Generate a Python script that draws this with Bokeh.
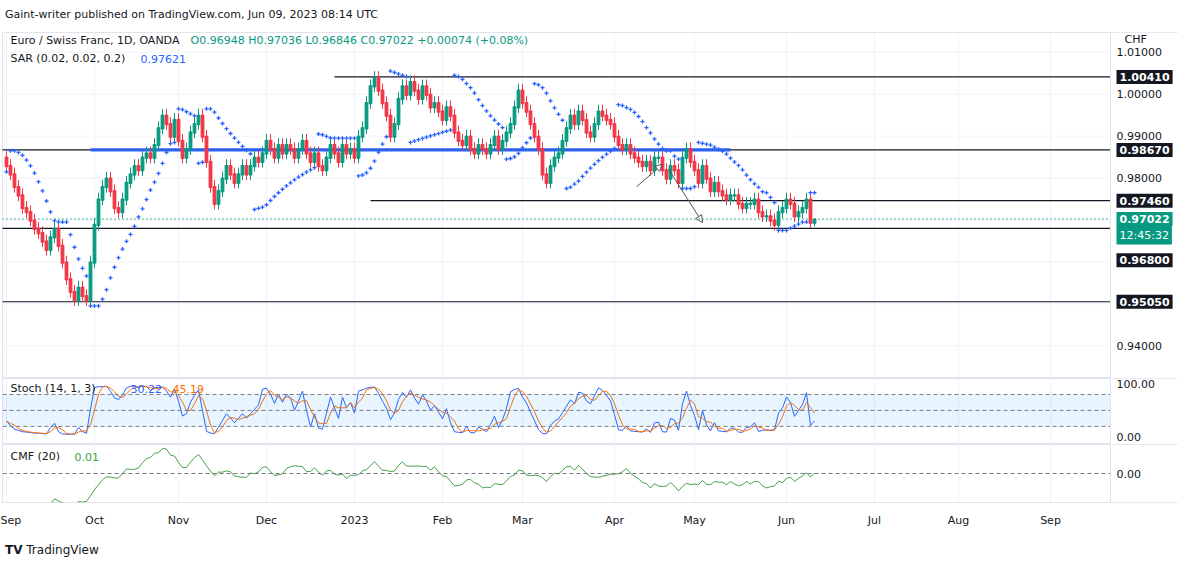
import numpy as np
from bokeh.plotting import figure
from bokeh.layouts import column
from bokeh.models import (Div, Label, Span, FixedTicker, Arrow, NormalHead,
                          BoxAnnotation, ColumnDataSource)
from bokeh.embed import file_html
from bokeh.resources import INLINE

closes = [0.983,0.981,0.978,0.976,0.973,0.972,0.970,0.968,0.967,0.965,
          0.963,0.966,0.968,0.964,0.960,0.956,0.953,0.951,0.954,0.952,
          0.951,0.960,0.969,0.975,0.978,0.980,0.977,0.973,0.972,0.975,
          0.979,0.981,0.983,0.982,0.985,0.986,0.985,0.988,0.992,0.995,
          0.993,0.990,0.994,0.989,0.985,0.987,0.991,0.993,0.995,0.990,
          0.984,0.978,0.974,0.977,0.980,0.983,0.981,0.979,0.981,0.983,
          0.981,0.983,0.985,0.984,0.986,0.989,0.987,0.985,0.988,0.986,
          0.988,0.987,0.985,0.987,0.989,0.986,0.984,0.986,0.983,0.982,
          0.985,0.988,0.986,0.984,0.988,0.986,0.987,0.985,0.990,0.992,
          0.998,1.002,1.004,1.001,0.998,0.995,0.990,0.993,0.999,1.002,
          1.000,1.003,1.001,0.999,1.002,1.000,0.997,0.998,0.996,0.994,
          0.997,0.995,0.991,0.989,0.988,0.990,0.987,0.986,0.988,0.987,
          0.986,0.988,0.990,0.987,0.989,0.991,0.993,0.997,1.001,0.998,
          0.996,0.993,0.990,0.987,0.981,0.979,0.983,0.985,0.986,0.989,
          0.992,0.995,0.993,0.996,0.994,0.991,0.990,0.993,0.996,0.995,
          0.994,0.993,0.990,0.988,0.987,0.988,0.986,0.985,0.984,0.983,
          0.984,0.982,0.985,0.985,0.982,0.980,0.983,0.982,0.979,0.985,
          0.987,0.984,0.982,0.979,0.983,0.980,0.977,0.979,0.977,0.976,
          0.975,0.976,0.976,0.974,0.973,0.974,0.974,0.975,0.972,0.971,
          0.971,0.970,0.969,0.972,0.973,0.975,0.974,0.971,0.972,0.973,
          0.975,0.96948,0.97022]
first_open = 0.985
last_high, last_low = 0.97036, 0.96846
month_idx = [0, 22, 43, 65, 87, 109, 129, 152, 172, 195, 217, 238, 261]
month_lbl = ["Sep", "Oct", "Nov", "Dec", "2023", "Feb", "Mar", "Apr", "May", "Jun", "Jul", "Aug", "Sep"]
price_ticks = [0.94, 0.95, 0.96, 0.97, 0.98, 0.99, 1.0, 1.01]
shown_price_labels = [0.94, 0.96, 0.98, 0.99, 1.0, 1.01]
levels = [1.0041, 0.9867, 0.9746, 0.9680, 0.9505]
level_start = [82, -5, 91, -5, -5]
level_label_shift = [0, 0, 0, -32, 0]

UP, DN = "#089981", "#f23645"
n = len(closes)
c = np.array(closes)
o = np.concatenate([[first_open], c[:-1]])
h = np.maximum(o, c) + 0.0015
l = np.minimum(o, c) - 0.0015
h[-1], l[-1] = last_high, last_low
x = np.arange(n)

sar = np.zeros(n); up = True; af = 0.02; ep = h[0]; sar[0] = l[0]
for i in range(1, n):
    s = sar[i-1] + af * (ep - sar[i-1])
    if up:
        s = min(s, l[i-1], l[i-2] if i > 1 else l[i-1])
        if l[i] < s:
            up = False; s = ep; ep = l[i]; af = 0.02
        elif h[i] > ep:
            ep = h[i]; af = min(af + 0.02, 0.2)
    else:
        s = max(s, h[i-1], h[i-2] if i > 1 else h[i-1])
        if h[i] > s:
            up = True; s = ep; ep = h[i]; af = 0.02
        elif l[i] < ep:
            ep = l[i]; af = min(af + 0.02, 0.2)
    sar[i] = s

K = np.array([100 * (c[i] - l[max(0, i-13):i+1].min()) /
              (h[max(0, i-13):i+1].max() - l[max(0, i-13):i+1].min()) for i in range(n)])
D = np.array([K[max(0, i-2):i+1].mean() for i in range(n)])
mfm = ((c - l) - (h - c)) / (h - l)
cmf = np.array([mfm[max(0, i-19):i+1].mean() for i in range(n)])

PX = 4.0
XEND = 276
AXW = 68
FW = 1176
XR = (XEND - (FW - AXW) / PX, XEND + AXW / PX)
FONT = "DejaVu Sans"
GRID = "#f0f3fa"

def base(height, yr, show_x=False):
    p = figure(frame_width=FW, frame_height=height, x_range=XR, y_range=yr,
               output_backend="svg", toolbar_location=None,
               min_border_left=2, min_border_right=0, min_border_top=0, min_border_bottom=0)
    p.outline_line_color = "#e0e3eb"
    p.xgrid.grid_line_color = GRID
    p.ygrid.grid_line_color = None
    p.xaxis.ticker = FixedTicker(ticks=month_idx)
    p.xaxis.major_label_overrides = {i: s for i, s in zip(month_idx, month_lbl)}
    p.yaxis.visible = False
    p.xaxis.visible = show_x
    ax = p.xaxis[0]
    ax.axis_line_color = None
    ax.major_tick_line_color = None
    ax.minor_tick_line_color = None
    ax.major_label_text_font = FONT
    ax.major_label_text_font_size = "11px"
    ax.major_label_text_color = "#131722"
    return p

def finish(p):
    p.add_layout(BoxAnnotation(left=XEND, fill_color="white", fill_alpha=1, line_color=None, level="overlay"))
    p.add_layout(Span(location=XEND, dimension="height", line_color="#e0e3eb", line_width=1, level="overlay"))

def hgrid(p, vals):
    for v in vals:
        p.add_layout(Span(location=v, dimension="width", line_color=GRID, line_width=1, level="underlay"))

def ylab(p, yv, t, bg=None, color="#131722", bold=False, yoff=0):
    p.add_layout(Label(x=XEND, y=yv, x_offset=6, y_offset=yoff, text=t, text_color=color,
                       text_font=FONT, text_font_size="11px",
                       text_font_style="bold" if bold else "normal",
                       background_fill_color=bg, padding=3 if bg else 0,
                       text_baseline="middle", level="overlay"))

def txt(p, xx, yy, t, color="#131722", size="11px"):
    p.add_layout(Label(x=xx, y=yy, x_units="screen", y_units="screen", text=t, text_color=color,
                       text_font=FONT, text_font_size=size, text_baseline="middle", level="overlay"))

main = base(346, (0.9322, 1.0147))
hgrid(main, price_ticks)
for lv, st in zip(levels, level_start):
    main.segment(x0=st, x1=XEND, y0=lv, y1=lv, line_color="#131722", line_width=1.2)
main.segment(x0=21, x1=181, y0=0.9869, y1=0.9869, line_color="#2962ff", line_width=1.5)
main.segment(x0=21, x1=181, y0=0.9865, y1=0.9865, line_color="#2962ff", line_width=1.5)
main.segment(x0=XR[0], x1=XEND, y0=c[-1], y1=c[-1], line_color=UP, line_dash="1 3", line_width=1.5)
col = [UP if cc >= oo else DN for oo, cc in zip(o, c)]
src = ColumnDataSource(dict(x=x, o=o, c=c, h=h, l=l, col=col,
                            top=np.maximum(o, c), bot=np.minimum(o, c) - 0.0003))
main.segment("x", "h", "x", "l", source=src, color="col")
main.vbar("x", 0.7, "top", "bot", source=src, fill_color="col", line_color="col")
main.scatter(x, sar, marker="cross", size=4, color="#2962ff", line_width=1.3)
main.add_layout(Arrow(end=NormalHead(size=7, line_color="#555", fill_color=None),
                      x_start=157.5, y_start=0.9779, x_end=164, y_end=0.9833, line_color="#555"))
main.add_layout(Arrow(end=NormalHead(size=7, line_color="#555", fill_color=None),
                      x_start=165.5, y_start=0.9821, x_end=174, y_end=0.9694, line_color="#555"))
finish(main)
for t in shown_price_labels:
    ylab(main, t, "%.5f" % t)
for lv, sh in zip(levels, level_label_shift):
    ylab(main, lv, "%.5f" % lv, bg="#131722", color="white", bold=True, yoff=sh)
ylab(main, 0.97022, "0.97022", bg=UP, color="white", bold=True)
ylab(main, 0.97022, "12:45:32", bg=UP, color="white", yoff=-16)
txt(main, FW - AXW + 14, 339, "CHF")
txt(main, 8, 338, "Euro / Swiss Franc, 1D, OANDA")
txt(main, 188, 338, "O0.96948  H0.97036  L0.96846  C0.97022  +0.00074 (+0.08%)", color=UP)
txt(main, 8, 320, "SAR (0.02, 0.02, 0.2)")
txt(main, 138, 320, "0.97621", color="#2962ff")

st = base(66, (-14, 110))
st.add_layout(BoxAnnotation(bottom=20, top=80, fill_color="#2196f3", fill_alpha=0.1, line_color=None))
for lv in (20, 50, 80):
    st.add_layout(Span(location=lv, dimension="width", line_color="#787b86", line_dash="4 3", line_width=1))
st.line(x, K, color="#2962ff", line_width=1)
st.line(x, D, color="#ff6d00", line_width=1)
finish(st)
ylab(st, 100, "100.00")
ylab(st, 0, "0.00")
txt(st, 8, 56, "Stoch (14, 1, 3)")
txt(st, 128, 56, "%.2f" % K[-1], color="#2962ff")
txt(st, 170, 56, "%.2f" % D[-1], color="#ff6d00")

cm = base(58, (-0.3, 0.3), show_x=True)
cm.add_layout(Span(location=0, dimension="width", line_color="#787b86", line_dash="4 3", line_width=1))
cm.line(x, cmf, color="#43a047", line_width=1)
finish(cm)
ylab(cm, 0, "0.00")
cm.min_border_bottom = 26
txt(cm, 8, 46, "CMF (20)")
txt(cm, 72, 46, "%.2f" % cmf[-1], color="#43a047")

head = Div(text="Gaint-writer published on TradingView.com, Jun 09, 2023 08:14 UTC",
           styles={"font-family": FONT, "font-size": "11px", "color": "#131722", "height": "22px",
                   "padding-top": "2px"})
foot = Div(text="<b>TV</b> TradingView",
           styles={"font-family": FONT, "font-size": "12px", "color": "#131722", "padding-top": "8px"})
p = column(head, main, st, cm, foot, spacing=0)
open("out.html", "w").write(file_html(p, INLINE))
